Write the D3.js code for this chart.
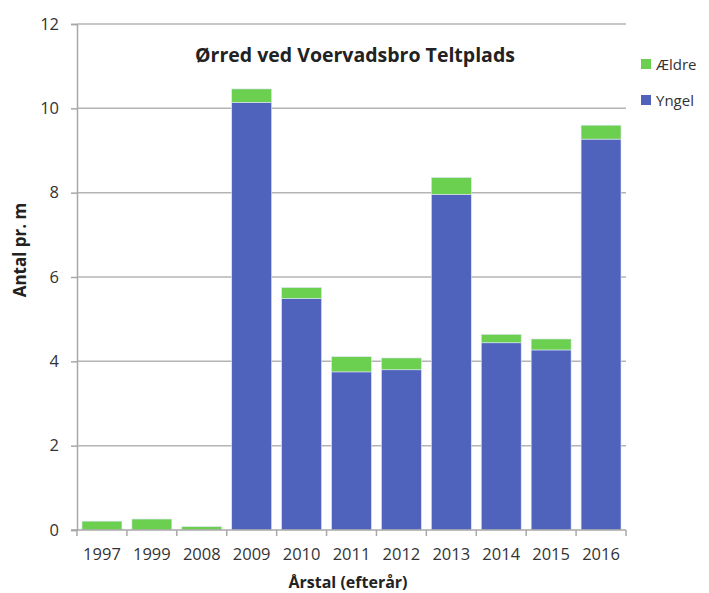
<!DOCTYPE html>
<html>
<head>
<meta charset="utf-8">
<script src="https://cdn.jsdelivr.net/npm/d3@7"></script>
<style>
  body { margin: 0; background: #fff; }
  text { font-family: "Open Sans", Lato, sans-serif; fill: #222; }
</style>
</head>
<body>
<div id="chart"></div>
<script>
// data
const years = ["1997", "1999", "2008", "2009", "2010", "2011", "2012", "2013", "2014", "2015", "2016"];
const yngel = [0, 0, 0, 10.14, 5.49, 3.75, 3.80, 7.96, 4.44, 4.27, 9.27];
const aeldre = [0.21, 0.26, 0.08, 0.32, 0.26, 0.36, 0.28, 0.40, 0.20, 0.26, 0.33];
const yTicks = [0, 2, 4, 6, 8, 10, 12];
const seriesNames = ["Yngel", "Ældre"];
const colors = { "Yngel": "#4f63bd", "Ældre": "#6bcf50" };

const width = 709, height = 593;
const margin = { top: 24, right: 83, bottom: 63, left: 77 };

const svg = d3.select("#chart").append("svg")
    .attr("width", width)
    .attr("height", height);

const x = d3.scaleBand()
    .domain(years)
    .range([margin.left, width - margin.right])
    .paddingInner(0.2)
    .paddingOuter(0.1);

const y = d3.scaleLinear()
    .domain([0, 12])
    .range([height - margin.bottom, margin.top]);

// gridlines
svg.append("g")
    .selectAll("line")
    .data(yTicks.slice(1))
    .enter().append("line")
    .attr("x1", margin.left)
    .attr("x2", width - margin.right)
    .attr("y1", d => y(d))
    .attr("y2", d => y(d))
    .style("stroke", "#b4b4b4")
    .style("stroke-width", 1.5);

// stacked bars
const table = years.map((yr, i) => ({ year: yr, "Yngel": yngel[i], "Ældre": aeldre[i] }));
const stack = d3.stack().keys(seriesNames)(table);

svg.append("g")
    .selectAll("g")
    .data(stack)
    .enter().append("g")
    .style("fill", d => colors[d.key])
    .selectAll("rect")
    .data(d => d)
    .enter().append("rect")
    .attr("x", d => x(d.data.year))
    .attr("width", x.bandwidth())
    .attr("y", d => y(d[1]))
    .attr("height", d => y(d[0]) - y(d[1]))
    .style("stroke", "#dfe6f5")
    .style("stroke-width", 0.6);

// y axis
const yAxis = svg.append("g")
    .attr("transform", "translate(" + margin.left + ",0)")
    .call(d3.axisLeft(y).tickValues(yTicks).tickSize(6).tickPadding(12));
yAxis.select(".domain").style("stroke", "#a8a8a8").style("stroke-width", 1.5);
yAxis.selectAll(".tick line").style("stroke", "#a8a8a8").style("stroke-width", 1.5);
yAxis.selectAll("text").style("font-size", "16.5px").style("fill", "#333");

// x axis, ticks sit between the bars
const xAxis = svg.append("g")
    .attr("transform", "translate(0," + y(0) + ")");
xAxis.append("line")
    .attr("x1", margin.left - 6)
    .attr("x2", width - margin.right)
    .style("stroke", "#a8a8a8")
    .style("stroke-width", 1.5);
const step = x.step();
xAxis.selectAll(".sep")
    .data(years)
    .enter().append("line")
    .attr("class", "sep")
    .attr("x1", d => x(d) - step * 0.1)
    .attr("x2", d => x(d) - step * 0.1)
    .attr("y1", 0)
    .attr("y2", 6)
    .style("stroke", "#a8a8a8")
    .style("stroke-width", 1.5);
xAxis.append("line")
    .attr("x1", width - margin.right)
    .attr("x2", width - margin.right)
    .attr("y1", 0)
    .attr("y2", 6)
    .style("stroke", "#a8a8a8")
    .style("stroke-width", 1.5);
xAxis.selectAll(".lbl")
    .data(years)
    .enter().append("text")
    .attr("class", "lbl")
    .attr("x", d => x(d) + x.bandwidth() / 2)
    .attr("y", 30)
    .attr("text-anchor", "middle")
    .style("font-size", "16.5px")
    .style("fill", "#333")
    .text(d => d);

// titles
svg.append("text")
    .attr("x", 355)
    .attr("y", 62)
    .attr("text-anchor", "middle")
    .style("font-size", "19.5px")
    .style("font-weight", "bold")
    .text("Ørred ved Voervadsbro Teltplads");

svg.append("text")
    .attr("x", 348)
    .attr("y", 588)
    .attr("text-anchor", "middle")
    .style("font-size", "16px")
    .style("font-weight", "bold")
    .text("Årstal (efterår)");

svg.append("text")
    .attr("transform", "translate(26,250) rotate(-90)")
    .attr("text-anchor", "middle")
    .style("font-size", "17px")
    .style("font-weight", "bold")
    .text("Antal pr. m");

// legend
const legendItems = ["Ældre", "Yngel"];
const legend = svg.append("g")
    .attr("transform", "translate(641,59)");
legend.selectAll("rect")
    .data(legendItems)
    .enter().append("rect")
    .attr("x", 0)
    .attr("y", (d, i) => i * 36)
    .attr("width", 10)
    .attr("height", 10)
    .style("fill", d => colors[d]);
legend.selectAll("text")
    .data(legendItems)
    .enter().append("text")
    .attr("x", 15)
    .attr("y", (d, i) => i * 36 + 11)
    .style("font-size", "15px")
    .style("fill", "#333")
    .text(d => d);
</script>
</body>
</html>
